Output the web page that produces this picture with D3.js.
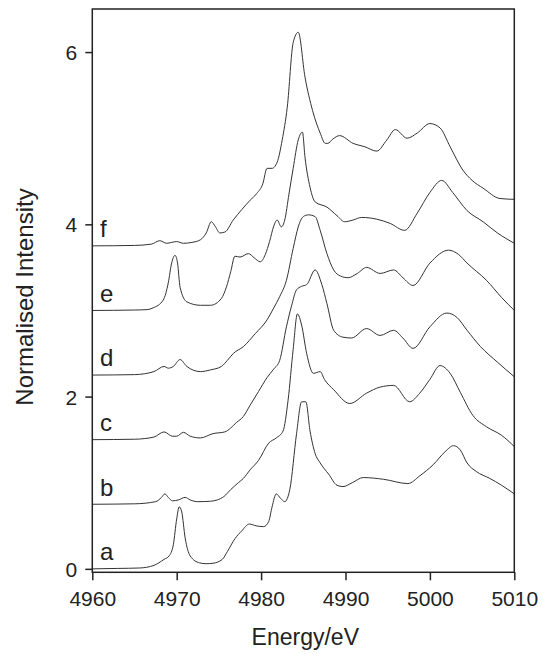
<!DOCTYPE html>
<html>
<head>
<meta charset="utf-8">
<script src="https://cdn.jsdelivr.net/npm/d3@7"></script>
<style>
  html, body { margin: 0; padding: 0; background: #fff; }
  svg { display: block; }
  text { font-family: "Liberation Sans", Arial, Helvetica, sans-serif; fill: #222; }
</style>
</head>
<body>
<svg id="chart" width="549" height="654"></svg>
<script>
// ---------------- data ----------------
const seriesNames = ["a", "b", "c", "d", "e", "f"];
const seriesOffsets = [0, 0.75, 1.5, 2.25, 3.0, 3.75];

const energyA = [4960, 4963, 4965.6, 4967.3, 4968.5, 4969.1, 4969.6, 4970.0, 4970.3, 4970.6, 4971.0, 4971.6, 4972.7, 4973.5, 4974.3, 4975.4, 4976.0, 4976.9, 4977.7, 4978.6, 4979.4, 4980.3, 4980.9, 4981.3, 4981.8, 4982.3, 4982.8, 4983.4, 4984.2, 4984.8, 4985.3, 4985.8, 4986.4, 4987.0, 4988.0, 4989.0, 4989.7, 4990.8, 4992.1, 4994.5, 4997.4, 4998.8, 5000.4, 5001.8, 5002.8, 5003.6, 5004.4, 5005.5, 5007.1, 5008.5, 5010];
const intensityA = [0, 0.005, 0.01, 0.04, 0.11, 0.15, 0.28, 0.58, 0.72, 0.66, 0.36, 0.15, 0.07, 0.06, 0.065, 0.11, 0.2, 0.35, 0.44, 0.52, 0.50, 0.49, 0.55, 0.72, 0.87, 0.82, 0.78, 0.92, 1.57, 1.94, 1.94, 1.6, 1.34, 1.23, 1.1, 0.97, 0.955, 1.0, 1.06, 1.04, 0.99, 1.08, 1.21, 1.36, 1.43, 1.38, 1.23, 1.13, 1.05, 0.97, 0.87];

const energyB = [4960, 4965, 4967.5, 4968.2, 4968.6, 4969.0, 4969.5, 4970.2, 4971.0, 4971.6, 4972.5, 4974.0, 4974.8, 4975.6, 4976.4, 4977.3, 4977.9, 4978.7, 4979.7, 4980.9, 4981.8, 4982.6, 4983.2, 4983.8, 4984.3, 4984.8, 4985.4, 4986.2, 4987.0, 4987.5, 4988.6, 4990.5, 4992.5, 4994.1, 4995.7, 4997.6, 4998.8, 5000.0, 5001.2, 5002.4, 5003.6, 5005.1, 5006.7, 5008.5, 5010];
const intensityB = [0, 0.005, 0.03, 0.08, 0.12, 0.08, 0.04, 0.05, 0.08, 0.05, 0.03, 0.035, 0.05, 0.09, 0.17, 0.25, 0.30, 0.40, 0.51, 0.71, 0.77, 0.85, 1.21, 1.8, 2.21, 2.08, 1.75, 1.52, 1.54, 1.45, 1.33, 1.17, 1.29, 1.36, 1.38, 1.19, 1.29, 1.45, 1.61, 1.52, 1.30, 1.03, 0.90, 0.80, 0.67];

const energyC = [4960, 4965, 4967.3, 4968.5, 4969.5, 4970.0, 4970.8, 4971.6, 4972.8, 4974.3, 4975.7, 4977.1, 4977.9, 4978.7, 4979.7, 4980.7, 4981.5, 4982.2, 4983.0, 4983.6, 4984.2, 4984.8, 4985.4, 4986.4, 4987.2, 4987.8, 4988.6, 4989.7, 4990.7, 4992.5, 4994.1, 4995.7, 4996.8, 4998.0, 5000.0, 5002.0, 5003.2, 5004.4, 5006.0, 5008.0, 5010];
const intensityC = [0, 0.005, 0.03, 0.09, 0.04, 0.04, 0.085, 0.04, 0.02, 0.07, 0.09, 0.2, 0.27, 0.40, 0.56, 0.72, 0.82, 0.92, 1.31, 1.55, 1.74, 1.78, 1.80, 1.97, 1.80, 1.58, 1.27, 1.19, 1.18, 1.29, 1.21, 1.27, 1.18, 1.06, 1.31, 1.47, 1.42, 1.27, 1.08, 0.90, 0.73];

const energyD = [4960, 4965, 4967.3, 4968.5, 4969.0, 4969.6, 4970.4, 4971.2, 4972.8, 4974.0, 4975.3, 4976.0, 4976.7, 4977.9, 4979.3, 4980.7, 4981.5, 4982.2, 4983.0, 4983.8, 4984.4, 4985.0, 4985.6, 4986.4, 4987.0, 4987.8, 4988.6, 4989.4, 4990.3, 4991.4, 4992.5, 4994.1, 4995.7, 4996.8, 4998.0, 5000.0, 5002.2, 5003.4, 5004.4, 5006.7, 5008.5, 5010];
const intensityD = [0, 0.005, 0.04, 0.10, 0.08, 0.10, 0.18, 0.10, 0.04, 0.06, 0.10, 0.17, 0.25, 0.33, 0.48, 0.64, 0.78, 0.91, 1.10, 1.47, 1.72, 1.84, 1.86, 1.84, 1.68, 1.41, 1.22, 1.15, 1.13, 1.18, 1.25, 1.18, 1.22, 1.13, 1.04, 1.30, 1.45, 1.40, 1.30, 1.10, 0.90, 0.75];

const energyE = [4960, 4965, 4966.5, 4967.2, 4968.4, 4969.0, 4969.4, 4969.8, 4970.1, 4970.4, 4971.2, 4972.8, 4974.0, 4975.3, 4975.9, 4976.4, 4976.9, 4977.5, 4978.5, 4979.2, 4979.9, 4980.5, 4981.0, 4981.5, 4981.9, 4982.4, 4982.8, 4983.3, 4983.8, 4984.4, 4984.9, 4985.2, 4985.8, 4986.4, 4987.8, 4989.0, 4989.9, 4990.9, 4991.9, 4993.7, 4995.3, 4997.0, 4998.5, 5000.0, 5001.4, 5002.7, 5004.4, 5006.3, 5008.0, 5010];
const intensityE = [0, 0.005, 0.01, 0.03, 0.12, 0.32, 0.55, 0.64, 0.55, 0.27, 0.10, 0.06, 0.06, 0.14, 0.275, 0.45, 0.63, 0.62, 0.66, 0.61, 0.565, 0.65, 0.80, 0.98, 1.05, 0.97, 1.05, 1.35, 1.65, 1.98, 2.07, 1.78, 1.43, 1.26, 1.20, 1.10, 1.03, 1.05, 1.08, 1.06, 1.01, 0.93, 1.13, 1.37, 1.51, 1.37, 1.16, 1.03, 0.90, 0.78];

const energyF = [4960, 4965, 4967.0, 4968.0, 4968.8, 4969.4, 4970.0, 4970.8, 4971.8, 4972.8, 4973.5, 4974.1, 4974.6, 4975.1, 4975.7, 4976.7, 4977.7, 4978.7, 4979.5, 4980.2, 4980.7, 4981.3, 4981.9, 4982.5, 4983.1, 4983.8, 4984.4, 4985.2, 4986.1, 4987.0, 4987.6, 4987.9, 4988.5, 4989.3, 4990.9, 4992.3, 4993.7, 4994.9, 4995.9, 4997.3, 4998.5, 5000.0, 5001.2, 5002.4, 5003.9, 5005.0, 5006.3, 5008.3, 5010];
const intensityF = [0, 0.005, 0.02, 0.06, 0.03, 0.04, 0.05, 0.03, 0.04, 0.07, 0.15, 0.28, 0.22, 0.15, 0.16, 0.30, 0.42, 0.53, 0.61, 0.72, 0.90, 0.90, 0.97, 1.23, 1.61, 2.36, 2.48, 1.96, 1.57, 1.31, 1.19, 1.19, 1.24, 1.28, 1.19, 1.15, 1.10, 1.23, 1.35, 1.25, 1.31, 1.42, 1.37, 1.15, 0.88, 0.76, 0.67, 0.55, 0.54];

const xTicks = [4960, 4970, 4980, 4990, 5000, 5010];
const yTicks = [0, 2, 4, 6];
const xTitle = "Energy/eV";
const yTitle = "Normalised Intensity";

// ---------------- layout ----------------
const margin = { left: 92.3, right: 549 - 514.3, top: 9, bottom: 654 - 572.3 };
const svg = d3.select("#chart");
const W = 549, H = 654;
const x = d3.scaleLinear().domain([4960, 5010]).range([margin.left, W - margin.right]);
const y = d3.scaleLinear().domain([-0.04, 6.5]).range([H - margin.bottom, margin.top]);

const energies = [energyA, energyB, energyC, energyD, energyE, energyF];
const intensities = [intensityA, intensityB, intensityC, intensityD, intensityE, intensityF];

const line = d3.line()
  .x(d => x(d[0]))
  .y(d => y(d[1]))
  .curve(d3.curveMonotoneX);

const plot = svg.append("g");
seriesNames.forEach((name, i) => {
  const pts = energies[i].map((e, k) => [e, intensities[i][k] + seriesOffsets[i]]);
  plot.append("path")
    .datum(pts)
    .attr("d", line)
    .attr("fill", "none")
    .attr("stroke", "#333")
    .attr("stroke-width", 1)
    .attr("stroke-linejoin", "round");
  plot.append("text")
    .attr("x", x(4960.9))
    .attr("y", y(seriesOffsets[i] + 0.1))
    .attr("font-size", 24)
    .text(name);
});

// frame
svg.append("rect")
  .attr("x", x(4960)).attr("y", y(6.5))
  .attr("width", x(5010) - x(4960)).attr("height", y(-0.04) - y(6.5))
  .attr("fill", "none").attr("stroke", "#222").attr("stroke-width", 1.5);

// axes
const xAxis = svg.append("g")
  .attr("transform", `translate(0,${y(-0.04)})`)
  .call(d3.axisBottom(x).tickValues(xTicks).tickSize(8).tickFormat(d3.format("d")));
xAxis.select(".domain").remove();
xAxis.selectAll(".tick line").attr("stroke", "#222").attr("stroke-width", 1.5);
xAxis.selectAll("text").attr("font-size", 21).attr("y", 34).attr("dy", null)
  .attr("fill", "#222").attr("font-family", "'Liberation Sans', Arial, sans-serif");

const yAxis = svg.append("g")
  .attr("transform", `translate(${x(4960)},0)`)
  .call(d3.axisLeft(y).tickValues(yTicks).tickSize(7).tickFormat(d3.format("d")));
yAxis.select(".domain").remove();
yAxis.selectAll(".tick line").attr("stroke", "#222").attr("stroke-width", 1.5);
yAxis.selectAll("text").attr("font-size", 21).attr("x", -15).attr("dy", "0.36em")
  .attr("fill", "#222").attr("font-family", "'Liberation Sans', Arial, sans-serif");

// titles
svg.append("text")
  .attr("x", (x(4960) + x(5010)) / 2 + 2)
  .attr("y", 645)
  .attr("text-anchor", "middle")
  .attr("font-size", 23)
  .text(xTitle);

svg.append("text")
  .attr("transform", `translate(33,${297}) rotate(-90)`)
  .attr("text-anchor", "middle")
  .attr("font-size", 24)
  .text(yTitle);
</script>
</body>
</html>
